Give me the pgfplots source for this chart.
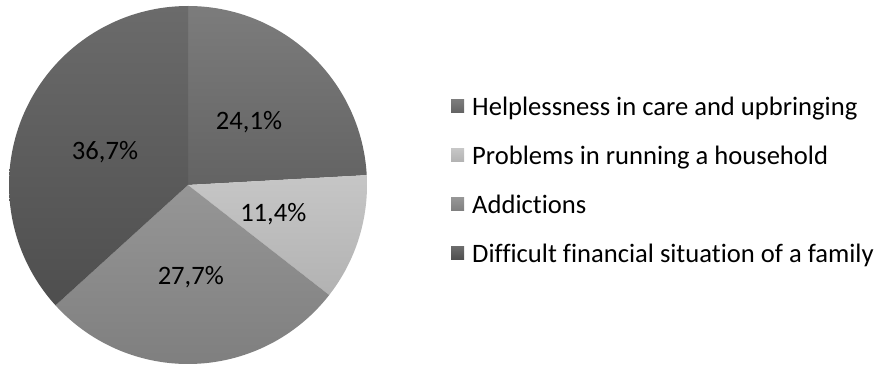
\documentclass[border=0pt]{standalone}
\usepackage{fontspec}
\setmainfont{Carlito}[Ligatures=NoCommon]
\usepackage{pgfplots}
\pgfplotsset{compat=1.18}
\definecolor{cHtop}{HTML}{7C7C7C}\definecolor{cHbot}{HTML}{636363}
\definecolor{cPtop}{HTML}{C6C6C6}\definecolor{cPbot}{HTML}{B2B2B2}
\definecolor{cAtop}{HTML}{969696}\definecolor{cAbot}{HTML}{7F7F7F}
\definecolor{cDtop}{HTML}{6B6B6B}\definecolor{cDbot}{HTML}{4E4E4E}
% shares (percent)
\def\vH{24.1}\def\vP{11.4}\def\vA{27.7}\def\vD{36.7}
\pgfmathsetmacro{\tot}{\vH+\vP+\vA+\vD}
\pgfmathsetmacro{\aO}{90}
\pgfmathsetmacro{\aI}{\aO-\vH*360/\tot}
\pgfmathsetmacro{\aII}{\aI-\vP*360/\tot}
\pgfmathsetmacro{\aIII}{\aII-\vA*360/\tot}
\pgfmathsetmacro{\aIV}{\aIII-\vD*360/\tot}
\def\cx{188}\def\cy{186}\def\R{179}
\begin{document}
\begin{tikzpicture}
\begin{axis}[
  scale only axis, width=878bp, height=371bp,
  xmin=0, xmax=878, ymin=0, ymax=371,
  hide axis, clip=false,
  legend image code/.code={\fill[#1] (0bp,9bp) rectangle (13bp,22bp);},
  legend cell align=left,
  legend style={draw=none, fill=none, inner sep=0pt, at={(axis cs:451,274)}, anchor=north west,
    font=\fontsize{26.7}{32}\selectfont, column sep=8bp,
    nodes={inner sep=0pt, text height=18bp, text depth=31bp}},
]
\path (axis cs:0,0) rectangle (axis cs:878,371);
\addplot[draw=none, top color=cHtop, bottom color=cHbot, domain=\aI:\aO, samples=90, variable=\t]
  ({\cx+\R*cos(t)}, {\cy+\R*sin(t)}) -- (axis cs:\cx,\cy) -- cycle;
\addlegendentry{Helplessness in care and upbringing}
\addplot[draw=none, top color=cPtop, bottom color=cPbot, domain=\aII:\aI, samples=60, variable=\t]
  ({\cx+\R*cos(t)}, {\cy+\R*sin(t)}) -- (axis cs:\cx,\cy) -- cycle;
\addlegendentry{Problems in running a household}
\addplot[draw=none, top color=cAtop, bottom color=cAbot, domain=\aIII:\aII, samples=90, variable=\t]
  ({\cx+\R*cos(t)}, {\cy+\R*sin(t)}) -- (axis cs:\cx,\cy) -- cycle;
\addlegendentry{Addictions}
\addplot[draw=none, top color=cDtop, bottom color=cDbot, domain=\aIV:\aIII, samples=120, variable=\t]
  ({\cx+\R*cos(t)}, {\cy+\R*sin(t)}) -- (axis cs:\cx,\cy) -- cycle;
\addlegendentry{Difficult financial situation of a family}
\begin{scope}[every node/.style={anchor=base, inner sep=0pt, font=\fontsize{26.7}{32}\selectfont, text=black}]
\node at (axis cs:249,241) {24,1\%};
\node at (axis cs:273.3,149.3) {11,4\%};
\node at (axis cs:190.8,86) {27,7\%};
\node at (axis cs:105,211.7) {36,7\%};
\end{scope}
\end{axis}
\end{tikzpicture}
\end{document}
